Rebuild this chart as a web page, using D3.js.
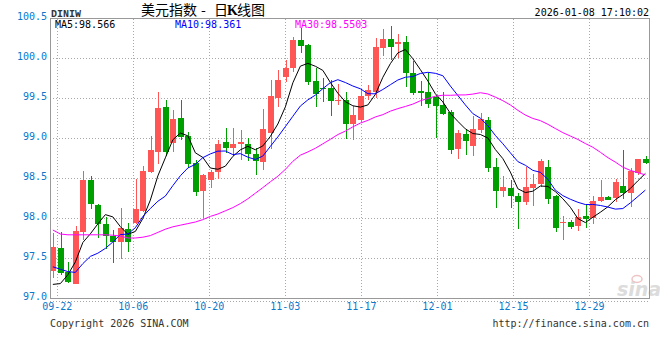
<!DOCTYPE html>
<html><head><meta charset="utf-8">
<script src="https://cdn.jsdelivr.net/npm/d3@7/dist/d3.min.js"></script>
<style>
html,body{margin:0;padding:0;background:#fff;}
svg{display:block;}
text{font-family:"DejaVu Sans Mono",monospace;}
</style></head>
<body>
<svg id="chart" width="660" height="360"></svg>
<script>
// ---- data ----
const dates = ["09-19","09-22","09-23","09-24","09-25","09-26","09-29","09-30",
"10-01","10-02","10-03","10-06","10-07","10-08","10-09","10-10","10-13","10-14","10-15","10-16","10-17",
"10-20","10-21","10-22","10-23","10-24","10-27","10-28","10-29","10-30","10-31",
"11-03","11-04","11-05","11-06","11-07","11-10","11-11","11-12","11-13","11-14",
"11-17","11-18","11-19","11-20","11-21","11-24","11-25","11-26","11-27","11-28",
"12-01","12-02","12-03","12-04","12-05","12-08","12-09","12-10","12-11","12-12",
"12-15","12-16","12-17","12-18","12-19","12-22","12-23","12-24","12-25","12-26",
"12-29","12-30","12-31","01-01","01-02","01-05","01-06","01-07","01-08"];
const open  = [97.34,97.63,97.32,97.18,97.83,98.475,98.16,97.925,97.78,97.70,97.86,97.94,98.09,98.57,98.83,99.39,98.94,99.25,99.03,98.69,
98.34,98.48,98.58,98.95,98.88,98.92,98.925,98.80,98.70,99.06,99.50,99.76,99.88,100.22,100.16,99.71,99.63,99.62,99.47,99.475,
99.18,99.22,99.52,99.58,100.13,100.24,100.17,100.20,99.815,99.59,99.57,99.51,99.41,99.33,98.86,99.05,98.90,99.10,99.225,98.635,
98.34,98.38,98.275,98.20,98.38,98.425,98.635,98.27,97.94,97.945,97.90,98.025,98.00,98.21,98.265,98.245,98.40,98.31,98.56,98.74];
const high  = [97.81,97.82,97.45,97.90,98.59,98.53,98.175,98.01,97.85,98.125,97.94,98.49,98.65,99.02,99.57,99.475,99.35,99.475,99.075,98.73,
98.55,98.60,98.975,99.13,99.13,99.10,99.00,98.87,99.36,99.73,99.85,99.98,100.26,100.37,100.18,99.875,99.75,99.725,99.68,99.57,
99.40,99.61,99.66,100.25,100.36,100.40,100.30,100.27,99.96,99.71,99.81,99.54,99.58,99.35,99.10,99.11,99.275,99.31,99.26,98.75,
98.525,98.475,98.31,98.64,98.55,98.74,98.725,98.29,98.03,97.97,98.11,98.17,98.27,98.48,98.275,98.49,98.85,98.62,98.74,98.78];
const low   = [97.25,97.29,97.19,97.17,97.72,98.11,97.75,97.61,97.44,97.49,97.58,97.925,98.07,98.56,98.68,98.78,98.82,98.975,98.63,98.27,
98.00,98.37,98.49,98.81,98.775,98.725,98.71,98.54,98.60,98.86,99.39,99.70,99.83,100.06,99.66,99.39,99.45,99.275,99.41,98.99,
98.98,99.20,99.475,99.50,100.03,99.98,100.00,99.64,99.54,99.40,99.37,99.00,99.29,98.80,98.74,98.79,98.78,99.06,98.58,98.12,
98.265,98.12,97.86,98.16,98.15,98.39,98.175,97.83,97.73,97.865,97.84,97.88,97.92,98.20,98.225,98.20,98.24,98.14,98.54,98.675];
const close = [97.64,97.31,97.20,97.84,98.48,98.18,97.93,97.78,97.70,97.87,97.70,98.11,98.59,98.85,99.38,98.83,99.24,99.01,98.675,98.32,
98.54,98.58,98.93,98.87,98.93,98.95,98.80,98.715,99.11,99.525,99.725,99.87,100.22,100.15,99.70,99.545,99.61,99.465,99.48,99.17,
99.29,99.525,99.60,100.14,100.24,100.14,100.20,99.81,99.565,99.56,99.43,99.40,99.30,98.85,99.06,98.96,99.11,99.24,98.63,98.34,
98.39,98.27,98.20,98.39,98.425,98.715,98.24,97.88,97.945,97.89,98.01,97.99,98.21,98.26,98.23,98.455,98.31,98.59,98.74,98.69];
// moving-average values before a full window exists
const ma5Lead  = [97.17,97.18,97.29,97.45];
const ma10Lead = [97.39,97.36,97.33,97.32,97.43,97.52,97.56,97.62,97.70];
const ma30Lead = [97.85,97.80,97.79,97.79,97.79,97.79,97.79,97.79,97.785,97.775,97.75,97.75,97.76,97.78,97.82,
97.86,97.89,97.91,97.93,97.95,97.98,98.02,98.05,98.09,98.13,98.18,98.24,98.31,98.38];
const yTicks = [97.0,97.5,98.0,98.5,99.0,99.5,100.0,100.5];
const xTickLabels = ["09-22","10-06","10-20","11-03","11-17","12-01","12-15","12-29"];
const maLabels = ["MA5:98.566","MA10:98.361","MA30:98.5503"];
const maColors = ["#000000","#0000ff","#ff00ff"];

function movingAvg(vals, n, lead){
  return vals.map((v,i)=> i < n-1 ? lead[i] : d3.mean(vals.slice(i-n+1, i+1)));
}
const ma5 = movingAvg(close,5,ma5Lead);
const ma10 = movingAvg(close,10,ma10Lead);
const ma30 = movingAvg(close,30,ma30Lead);

// ---- layout ----
const L = 50, R = 649, T = 18, B = 298;
const svg = d3.select("#chart");
const x = d3.scaleBand().domain(dates).range([49.1, 649.1]).paddingInner(0).paddingOuter(0);
const y = d3.scaleLinear().domain([97, 100.5]).range([B, T]);
const xg = d3.scaleLinear().domain([0, xTickLabels.length-1]).range([56.7, 589]);
const axisBlue = "#0a78cc";
const gridCol = "#a8a8a8";

// watermark
const wm = svg.append("g");
wm.append("text").attr("x",617).attr("y",296).text("sina")
  .style("font-family","DejaVu Sans, sans-serif").style("font-style","italic").style("font-weight","bold")
  .style("font-size","19px").attr("fill","#dcdcdc");
wm.append("ellipse").attr("cx",637).attr("cy",279).attr("rx",5).attr("ry",3.5)
  .attr("fill","none").attr("stroke","#eec4c4").attr("stroke-width",1.5);

// grid
const grid = svg.append("g");
yTicks.filter(v => v > 97 && v < 100.5).forEach(v=>{
  const yy = Math.round(y(v)) + 0.5;
  grid.append("line").attr("x1",L).attr("x2",R).attr("y1",yy).attr("y2",yy)
    .attr("stroke",gridCol).attr("stroke-dasharray","1,2");
});
xTickLabels.forEach((t,i)=>{
  const xx = Math.round(xg(i)) + 0.5;
  grid.append("line").attr("x1",xx).attr("x2",xx).attr("y1",T+1).attr("y2",B)
    .attr("stroke",gridCol).attr("stroke-dasharray","1,2");
});
// dotted line under plot
svg.append("line").attr("x1",L).attr("x2",R+1).attr("y1",301.5).attr("y2",301.5)
  .attr("stroke",gridCol).attr("stroke-dasharray","1,2");

// candles
const data = dates.map((d,i)=>({d, o:open[i], h:high[i], l:low[i], c:close[i]}));
const up = "#ff5555", down = "#009f00";
const cg = svg.append("g");
cg.selectAll("rect.wick").data(data).join("rect").attr("class","wick")
  .attr("x", d => Math.round(x(d.d)+1) + 3 - 0.5 + 0.5)
  .attr("width",1)
  .attr("y", d => Math.round(y(d.h)))
  .attr("height", d => Math.max(1, Math.round(y(d.l)) - Math.round(y(d.h))))
  .attr("fill", d => d.c >= d.o ? up : down);
cg.selectAll("rect.body").data(data).join("rect").attr("class","body")
  .attr("x", d => Math.round(x(d.d)+1))
  .attr("width",6)
  .attr("y", d => Math.round(y(Math.max(d.o,d.c))))
  .attr("height", d => Math.max(1, Math.round(y(Math.min(d.o,d.c))) - Math.round(y(Math.max(d.o,d.c)))))
  .attr("fill", d => d.c >= d.o ? up : down);

// MA lines
const lineGen = arr => d3.line().x((v,i)=> x(dates[i]) + x.bandwidth()/2).y(v=>y(v))(arr);
[ma5, ma10, ma30].forEach((arr,k)=>{
  svg.append("path").attr("d", lineGen(arr)).attr("fill","none")
    .attr("stroke", maColors[k]).attr("stroke-width",1);
});

// frame
svg.append("rect").attr("x",L+0.5).attr("y",T+0.5).attr("width",R-L).attr("height",B-T)
  .attr("fill","none").attr("stroke","#999");

// y axis labels
const yAxis = d3.axisLeft(y).tickValues(yTicks).tickFormat(d3.format(".1f")).tickSize(0).tickPadding(4);
const ya = svg.append("g").attr("transform","translate(47,-2)").call(yAxis);
ya.select(".domain").remove();
ya.selectAll("text").attr("fill",axisBlue).style("font-size","10px").style("font-family","DejaVu Sans Mono, monospace").attr("x",0);

// x axis labels
const xAxis = d3.axisBottom(xg).tickValues(d3.range(xTickLabels.length)).tickFormat(i=>xTickLabels[i]).tickSize(0).tickPadding(0);
const xa = svg.append("g").attr("transform","translate(0,303)").call(xAxis);
xa.select(".domain").remove();
xa.selectAll("text").attr("fill",axisBlue).style("font-size","10px").style("font-family","DejaVu Sans Mono, monospace");

// MA legend
const legX = [55, 175, 295];
maLabels.forEach((t,i)=>{
  svg.append("text").attr("x",legX[i]).attr("y",27.5).text(t)
    .attr("fill",maColors[i]).style("font-size","10px");
});

// header
svg.append("text").attr("x",51).attr("y",16.5).text("DINIW").attr("fill","#333")
  .style("font-size","10px").style("font-family","Liberation Mono, monospace").style("font-weight","bold");
const title = svg.append("text").attr("y",15).attr("fill","#000")
  .style("font-family","Noto Sans CJK SC, sans-serif").style("font-size","14px");
title.append("tspan").attr("x",141).text("美元指数");
title.append("tspan").attr("x",201).text("-");
title.append("tspan").attr("x",214).text("日");
title.append("tspan").attr("x",227).style("font-family","Liberation Serif, serif").style("font-weight","bold").text("K");
title.append("tspan").attr("x",237).text("线图");
svg.append("text").attr("x",649).attr("y",16).attr("text-anchor","end").text("2026-01-08 17:10:02")
  .attr("fill","#000").style("font-size","10px");

// footer
svg.append("text").attr("x",50).attr("y",327).text("Copyright 2026 SINA.COM").attr("fill","#333").style("font-size","10px");
svg.append("text").attr("x",649).attr("y",327).attr("text-anchor","end").text("http://finance.sina.com.cn").attr("fill","#333").style("font-size","10px");
</script>
</body></html>
